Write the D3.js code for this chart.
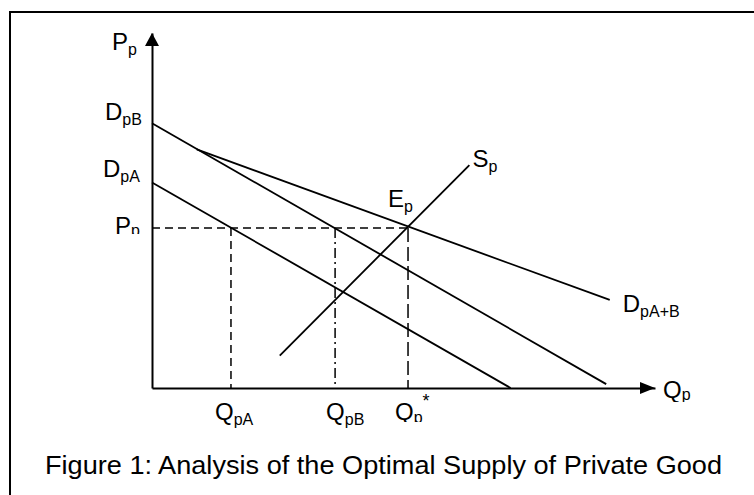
<!DOCTYPE html>
<html>
<head>
<meta charset="utf-8">
<script src="https://cdn.jsdelivr.net/npm/d3@7"></script>
<style>
  body { margin: 0; background: #fff; }
  svg text { font-family: "Liberation Sans", Arial, Helvetica, sans-serif; fill: #000; }
</style>
</head>
<body>
<div id="chart"></div>
<script>
// curves, in (quantity, price) units
const demandB = [[0, 74.6], [90.3, 1.1]];
const demandA = [[0, 57.9], [71.3, 0]];
const demandSum = [[8.9, 67.2], [91, 24.8]];
const supply = [[25.4, 9.1], [63.1, 62.8]];

// equilibrium price and the quantities at that price
const priceP = 45.1;
const qA = 15.7;
const qB = 36.4;
const qStar = 50.9;

const caption = "Figure 1: Analysis of the Optimal Supply of Private Good";

const width = 754, height = 495;
const svg = d3.select("#chart").append("svg")
    .attr("width", width)
    .attr("height", height);

const x = d3.scaleLinear().domain([0, 100]).range([152, 655]);
const y = d3.scaleLinear().domain([0, 100]).range([388, 33]);

// frame (only top and left edges show)
svg.append("path")
    .attr("d", `M10,${height} L10,12 L${width},12`)
    .attr("fill", "none")
    .attr("stroke", "#000")
    .attr("stroke-width", 2);

const g = svg.append("g");

// axes, no ticks, arrows at the ends
const xAxis = d3.axisBottom(x).tickValues([]).tickSizeOuter(0);
const yAxis = d3.axisLeft(y).tickValues([]).tickSizeOuter(0);
g.append("g").attr("transform", `translate(0,${y(0)})`).call(xAxis);
g.append("g").attr("transform", `translate(${x(0)},0)`).call(yAxis);
g.selectAll(".domain").attr("stroke", "#000").attr("stroke-width", 2);

const xEnd = x.range()[1], yEnd = y.range()[1];
g.append("path")
    .attr("d", `M${xEnd},${y(0)} L${xEnd - 15},${y(0) - 6} L${xEnd - 15},${y(0) + 6} Z`)
    .attr("fill", "#000");
g.append("path")
    .attr("d", `M${x(0)},${yEnd} L${x(0) - 7},${yEnd + 13} L${x(0) + 7},${yEnd + 13} Z`)
    .attr("fill", "#000");

const line = d3.line().x(d => x(d[0])).y(d => y(d[1]));

[demandB, demandA, demandSum, supply].forEach(pts => {
    g.append("path")
        .datum(pts)
        .attr("d", line)
        .attr("fill", "none")
        .attr("stroke", "#000")
        .attr("stroke-width", 1.8);
});

// guide lines
const guides = [
    { pts: [[0, priceP], [qStar, priceP]], dash: "8,5" },
    { pts: [[qA, priceP], [qA, 0]], dash: "8,5" },
    { pts: [[qB, priceP], [qB, 0]], dash: "10,4,2,4" },
    { pts: [[qStar, priceP], [qStar, 0]], dash: "14,5" }
];
guides.forEach(gd => {
    g.append("path")
        .datum(gd.pts)
        .attr("d", line)
        .attr("fill", "none")
        .attr("stroke", "#000")
        .attr("stroke-width", 1.5)
        .attr("stroke-dasharray", gd.dash);
});

// clip rects for the labels whose subscripts get cut off
const defs = svg.append("defs");
function clipAbove(id, yMax) {
    defs.append("clipPath").attr("id", id)
        .append("rect").attr("x", 0).attr("y", 0).attr("width", width).attr("height", yMax);
    return `url(#${id})`;
}

function label(px, py, main, sub, sup, clip, subDy = 5) {
    const t = g.append("text")
        .attr("x", px)
        .attr("y", py)
        .attr("font-size", 24);
    if (clip) t.attr("clip-path", clip);
    t.append("tspan").text(main);
    if (sub) t.append("tspan").attr("font-size", 16).attr("dy", subDy).text(sub);
    if (sup) t.append("tspan").attr("font-size", 18).attr("dy", -16).text(sup);
    return t;
}

label(x(0) - 40, 50, "P", "p");
label(x(0) - 47, y(demandB[0][1]) - 3, "D", "pB");
label(x(0) - 49, y(demandA[0][1]) - 5, "D", "pA");
label(x(0) - 37, y(priceP) + 6, "P", "p", null, clipAbove("clipP", y(priceP) + 6), 2);
label(x(qStar) - 20, y(priceP) - 21, "E", "p");
label(x(supply[1][0]) + 3, y(supply[1][1]) + 2, "S", "p");
label(x(demandSum[1][0]) + 13, y(demandSum[1][1]) + 12, "D", "pA+B");
label(x(qA) - 16, 420, "Q", "pA");
label(x(qB) - 9, 420, "Q", "pB");
label(x(qStar) - 13, 420, "Q", "p", "*", clipAbove("clipQ", 422), 3);
label(xEnd + 8, y(0) + 10, "Q", "p", null, clipAbove("clipQp", y(0) + 14), 2);

svg.append("text")
    .attr("x", 45)
    .attr("y", 474)
    .attr("font-size", 26)
    .attr("textLength", 677)
    .attr("lengthAdjust", "spacingAndGlyphs")
    .text(caption);
</script>
</body>
</html>
